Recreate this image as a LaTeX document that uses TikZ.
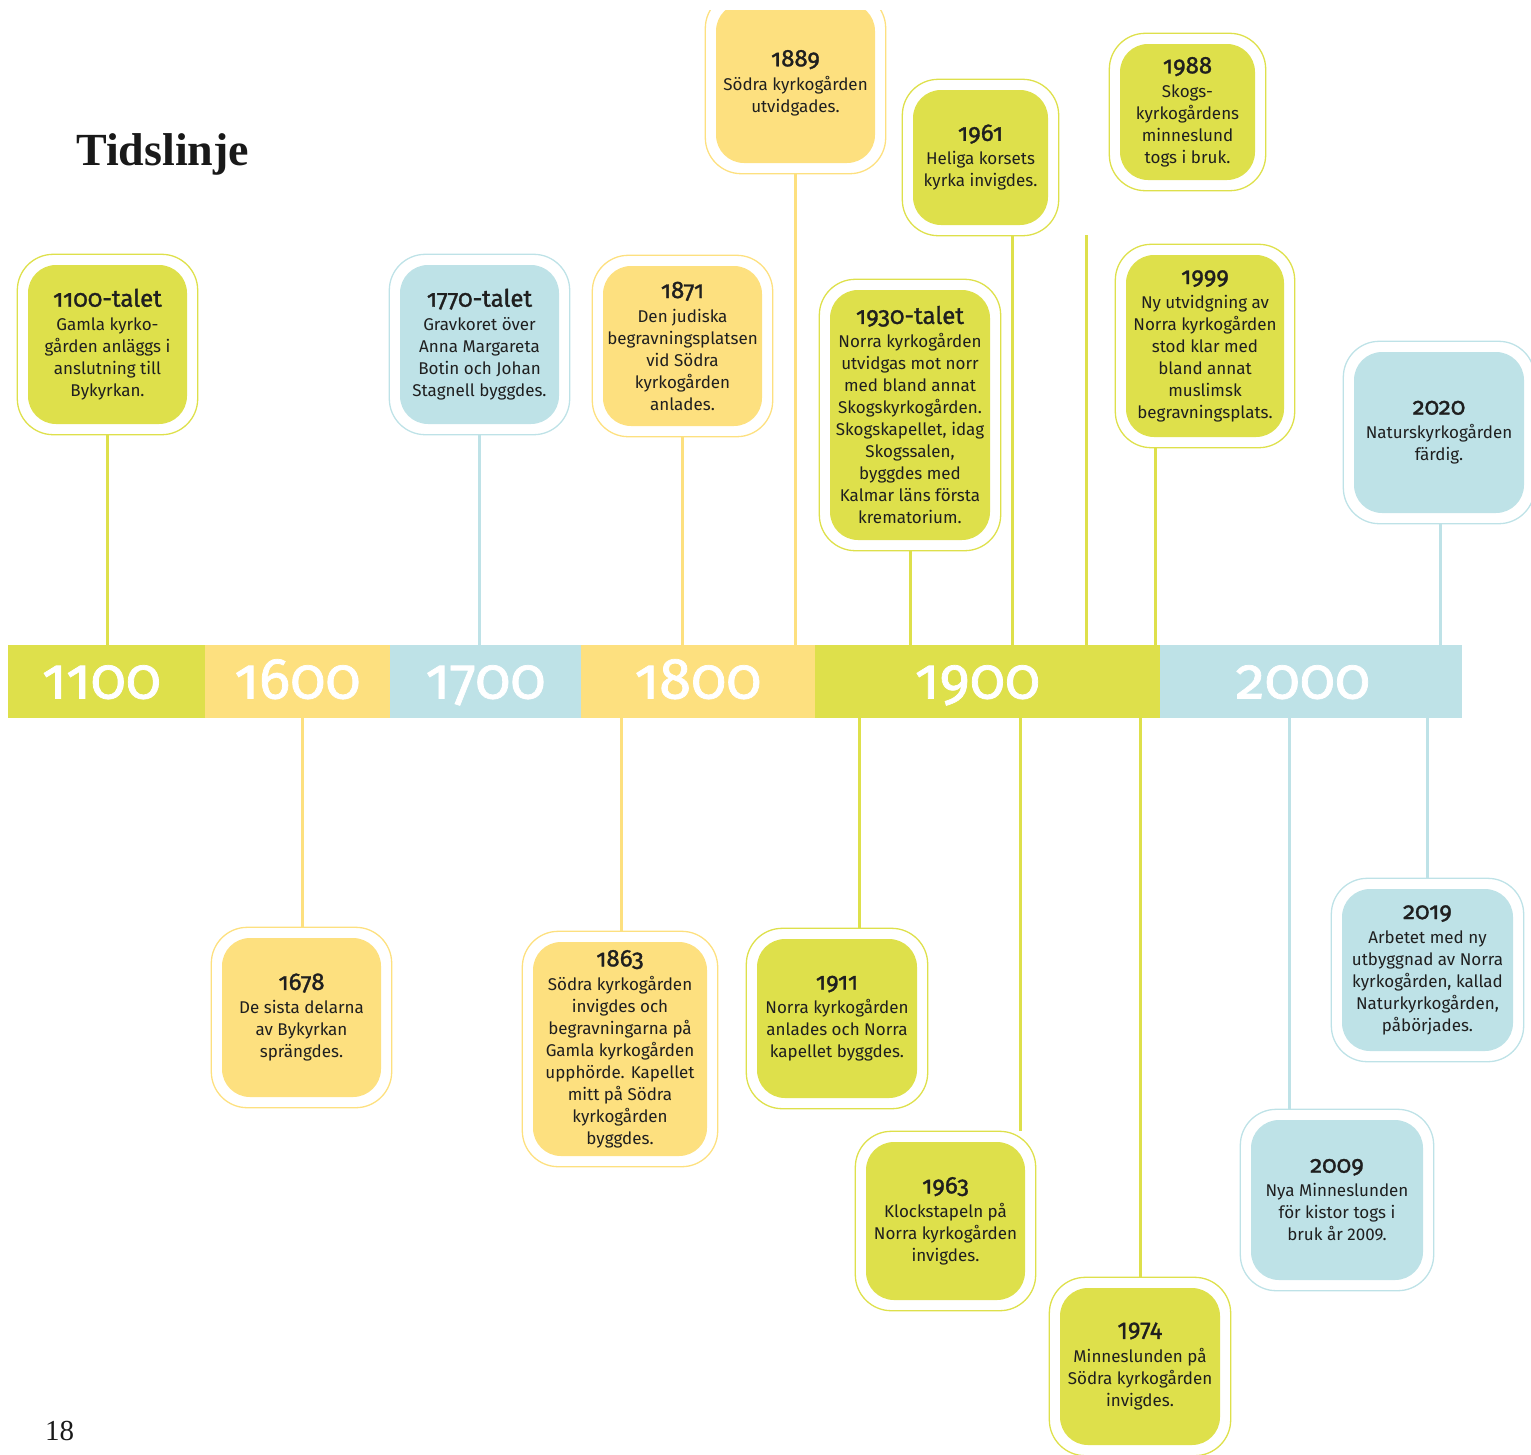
\documentclass[tikz,border=0pt]{standalone}
\usepackage{fontspec}
\setmainfont{Fira Sans}
\newfontfamily\oldnum[Numbers={OldStyle,Proportional},FakeBold=1.3]{Fira Sans}
\newfontfamily\medium[FakeBold=1.3]{Fira Sans}
\newfontfamily\serif{Liberation Serif}
\usetikzlibrary{fit}

\definecolor{tlgreen}{RGB}{222,224,75}
\definecolor{tlyellow}{RGB}{253,224,127}
\definecolor{tlblue}{RGB}{190,226,231}

\tikzset{
  event/.style={fill=#1, rounded corners=28pt, minimum width=159pt,
    minimum height=159pt, inner sep=2pt, align=center, text=black!88,
    font=\fontsize{17}{22}\selectfont},
  ring/.style={draw=#1, line width=1.3pt, rounded corners=36pt, inner sep=10.5pt},
  stem/.style={draw=#1, line width=3pt},
  seg/.style={fill=#1, minimum height=73pt, inner sep=0pt, text=white,
    text height=34pt, text depth=0pt,
    font=\oldnum\fontsize{58}{58}\selectfont},
}
\newcommand{\yr}[1]{{\oldnum\fontsize{24}{24}\selectfont #1}\\[2pt]}

\begin{document}
\begin{tikzpicture}[x=1pt, y=-1pt]
  \useasboundingbox (0,0) rectangle (1531,1454);
  \clip (0,10) rectangle (1531,1454);

  % Title and page number
  \node[anchor=base west, inner sep=0pt, font=\serif\bfseries\fontsize{46}{46}\selectfont,
    text=black!90] (title) at (76,165) {Tidslinje};
  \node[anchor=base west, inner sep=0pt, font=\serif\fontsize{29}{29}\selectfont,
    text=black!90] (page) at (45,1440) {18};

  % Bar
  \node[seg=tlgreen, minimum width=197pt] (s1100) at (106.5,681.5) {\hspace*{-10pt}1100};
  \node[seg=tlyellow, minimum width=185pt] (s1600) at (297.5,681.5) {1600};
  \node[seg=tlblue, minimum width=191pt] (s1700) at (485.5,681.5) {1700};
  \node[seg=tlyellow, minimum width=234pt] (s1800) at (698,681.5) {1800};
  \node[seg=tlgreen, minimum width=345pt] (s1900) at (987.5,681.5) {\hspace*{-20pt}1900};
  \node[seg=tlblue, minimum width=302pt] (s2000) at (1311,681.5) {\hspace*{-16pt}2000};

  % Boxes (top)
  \node[event=tlgreen] (e1100) at (107.5,344.5)
    {\yr{1100-talet}Gamla kyrko-\\gården anläggs i\\anslutning till\\Bykyrkan.};
  \node[ring=tlgreen, fit=(e1100)] (r1100) {};

  \node[event=tlblue] (e1770) at (479.5,344.5)
    {\yr{1770-talet}Gravkoret över\\Anna Margareta\\Botin och Johan\\Stagnell byggdes.};
  \node[ring=tlblue, fit=(e1770)] (r1770) {};

  \node[event=tlyellow, minimum height=160pt] (e1871) at (682.5,346)
    {\yr{1871}Den judiska\\begravningsplatsen\\vid Södra\\kyrkogården\\anlades.};
  \node[ring=tlyellow, fit=(e1871)] (r1871) {};

  \node[event=tlyellow, minimum height=160pt] (e1889) at (795.5,83)
    {\yr{1889}Södra kyrkogården\\utvidgades.};
  \node[ring=tlyellow, fit=(e1889)] (r1889) {};

  \node[event=tlgreen, minimum width=135pt, minimum height=135pt] (e1961) at (980.5,157.5)
    {\yr{1961}Heliga korsets\\kyrka invigdes.};
  \node[ring=tlgreen, fit=(e1961)] (r1961) {};

  \node[event=tlgreen, minimum width=135pt, minimum height=136pt] (e1988) at (1187.5,112)
    {\yr{1988}Skogs-\\kyrkogårdens\\minneslund\\togs i bruk.};
  \node[ring=tlgreen, fit=(e1988)] (r1988) {};

  \node[event=tlgreen, minimum width=160pt, minimum height=250pt] (e1930) at (910,415)
    {\yr{1930-talet}Norra kyrkogården\\utvidgas mot norr\\med bland annat\\Skogskyrkogården.\\
     Skogskapellet, idag\\Skogssalen,\\byggdes med\\Kalmar läns första\\krematorium.};
  \node[ring=tlgreen, fit=(e1930)] (r1930) {};

  \node[event=tlgreen, minimum width=158pt, minimum height=182pt] (e1999) at (1205,346)
    {\yr{1999}Ny utvidgning av\\Norra kyrkogården\\stod klar med\\bland annat\\muslimsk\\begravningsplats.};
  \node[ring=tlgreen, fit=(e1999)] (r1999) {};

  \node[event=tlblue, minimum width=170pt, minimum height=161pt] (e2020) at (1439,432.5)
    {\yr{2020}Naturskyrkogården\\färdig.};
  \node[ring=tlblue, fit=(e2020)] (r2020) {};

  % Boxes (bottom)
  \node[event=tlyellow] (e1678) at (301.5,1017.5)
    {\yr{1678}De sista delarna\\av Bykyrkan\\sprängdes.};
  \node[ring=tlyellow, fit=(e1678)] (r1678) {};

  \node[event=tlyellow, minimum width=174pt, minimum height=214pt] (e1863) at (620,1049)
    {\yr{1863}Södra kyrkogården\\invigdes och\\begravningarna på\\Gamla kyrkogården\\
     upphörde. Kapellet\\mitt på Södra\\kyrkogården\\byggdes.};
  \node[ring=tlyellow, fit=(e1863)] (r1863) {};

  \node[event=tlgreen, minimum width=160pt] (e1911) at (837,1018.5)
    {\yr{1911}Norra kyrkogården\\anlades och Norra\\kapellet byggdes.};
  \node[ring=tlgreen, fit=(e1911)] (r1911) {};

  \node[event=tlgreen, minimum height=158pt] (e1963) at (945.5,1221)
    {\yr{1963}Klockstapeln på\\Norra kyrkogården\\invigdes.};
  \node[ring=tlgreen, fit=(e1963)] (r1963) {};

  \node[event=tlgreen, minimum width=160pt, minimum height=157pt] (e1974) at (1140,1366.5)
    {{\medium\fontsize{24}{24}\selectfont 1974}\\[2pt]Minneslunden på\\Södra kyrkogården\\invigdes.};
  \node[ring=tlgreen, fit=(e1974)] (r1974) {};

  \node[event=tlblue, minimum width=172pt, minimum height=160pt] (e2009) at (1337,1200)
    {\yr{2009}Nya Minneslunden\\för kistor togs i\\bruk år 2009.};
  \node[ring=tlblue, fit=(e2009)] (r2009) {};

  \node[event=tlblue, minimum width=171pt, minimum height=162pt] (e2019) at (1427.5,970)
    {\yr{2019}Arbetet med ny\\utbyggnad av Norra\\kyrkogården, kallad\\Naturkyrkogården,\\påbörjades.};
  \node[ring=tlblue, fit=(e2019)] (r2019) {};

  % Stems (top)
  \coordinate (k1100) at (107,645);
  \coordinate (k1770) at (479,645);
  \coordinate (k1871) at (682,645);
  \coordinate (k1889) at (795,645);
  \coordinate (k1930) at (910,645);
  \coordinate (k1961) at (1012,645);
  \coordinate (k1988) at (1086,645);
  \coordinate (k1999) at (1155,645);
  \coordinate (k2020) at (1440,645);
  \draw[stem=tlgreen] (k1100) -- (k1100 |- r1100.south);
  \draw[stem=tlblue] (k1770) -- (k1770 |- r1770.south);
  \draw[stem=tlyellow] (k1871) -- (k1871 |- r1871.south);
  \draw[stem=tlyellow] (k1889) -- (k1889 |- r1889.south);
  \draw[stem=tlgreen] (k1930) -- (k1930 |- r1930.south);
  \draw[stem=tlgreen] (k1961) -- (k1961 |- r1961.south);
  \draw[stem=tlgreen] (k1988) -- ++(0,-410);
  \draw[stem=tlgreen] (k1999) -- (k1999 |- r1999.south);
  \draw[stem=tlblue] (k2020) -- (k2020 |- r2020.south);

  % Stems (bottom)
  \coordinate (k1678) at (302,718);
  \coordinate (k1863) at (621,718);
  \coordinate (k1911) at (859,718);
  \coordinate (k1963) at (1020,718);
  \coordinate (k1974) at (1140,718);
  \coordinate (k2009) at (1289,718);
  \coordinate (k2019) at (1427,718);
  \draw[stem=tlyellow] (k1678) -- (k1678 |- r1678.north);
  \draw[stem=tlyellow] (k1863) -- (k1863 |- r1863.north);
  \draw[stem=tlgreen] (k1911) -- (k1911 |- r1911.north);
  \draw[stem=tlgreen] (k1963) -- (k1963 |- r1963.north);
  \draw[stem=tlgreen] (k1974) -- (k1974 |- r1974.north);
  \draw[stem=tlblue] (k2009) -- (k2009 |- r2009.north);
  \draw[stem=tlblue] (k2019) -- (k2019 |- r2019.north);
\end{tikzpicture}
\end{document}
